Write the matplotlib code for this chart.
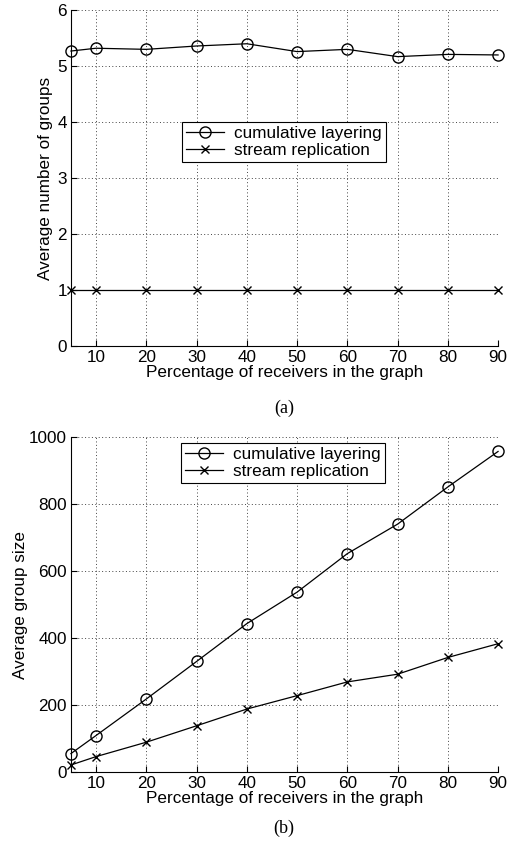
import matplotlib
matplotlib.use("Agg")
import matplotlib.pyplot as plt

plt.rcParams['font.family'] = ['Liberation Sans', 'DejaVu Sans']

# percentage of receivers
pct = [5, 10, 20, 30, 40, 50, 60, 70, 80, 90]

# (a) average number of groups
groups_cum = [5.27, 5.32, 5.30, 5.36, 5.40, 5.26, 5.30, 5.17, 5.21, 5.20]
groups_rep = [1, 1, 1, 1, 1, 1, 1, 1, 1, 1]

# (b) average group size
size_cum = [55, 109, 218, 330, 443, 537, 652, 740, 851, 957]
size_rep = [21, 46, 89, 138, 188, 228, 269, 292, 342, 383]

xticks = [10, 20, 30, 40, 50, 60, 70, 80, 90]
labels = ['cumulative layering', 'stream replication']
FS = 12.3


def style_axes(ax):
    """MATLAB-ish look: dotted grid, inward ticks, no top/right box"""
    ax.set_xlim(5, 90)
    ax.set_xticks(xticks)
    ax.grid(True, linestyle=(0, (1, 2.5)), color='#444444', linewidth=0.7)
    ax.spines['top'].set_visible(False)
    ax.spines['right'].set_visible(False)
    ax.tick_params(direction='in', length=4, labelsize=FS, pad=3)
    ax.set_xlabel('Percentage of receivers in the graph', fontsize=FS, labelpad=0)


def add_legend(ax, anchor):
    leg = ax.legend(loc='upper left', bbox_to_anchor=anchor, borderaxespad=0,
                    fontsize=FS, fancybox=False, framealpha=1, edgecolor='black',
                    handlelength=2.2, handletextpad=0.6, labelspacing=0.1,
                    borderpad=0.25)
    leg.get_frame().set_linewidth(0.8)


fig = plt.figure(figsize=(5.14, 8.48), dpi=100)

ax1 = fig.add_axes([0.138, 0.592, 0.831, 0.396])
ax1.plot(pct, groups_cum, 'k-o', mfc='none', ms=8, lw=0.9, label=labels[0], clip_on=False)
ax1.plot(pct, groups_rep, 'k-x', ms=6, lw=0.9, label=labels[1], clip_on=False)
style_axes(ax1)
ax1.set_ylim(0, 6)
ax1.set_yticks([0, 1, 2, 3, 4, 5, 6])
ax1.set_ylabel('Average number of groups', fontsize=FS)
ax1.yaxis.set_label_coords(-0.043, 0.5)
add_legend(ax1, (0.26, 0.667))
fig.text(0.553, 1 - 408 / 848, '(a)', ha='center', va='center',
         fontsize=13, family='Liberation Serif')

ax2 = fig.add_axes([0.138, 0.0896, 0.831, 0.395])
ax2.plot(pct, size_cum, 'k-o', mfc='none', ms=8, lw=0.9, label=labels[0], clip_on=False)
ax2.plot(pct, size_rep, 'k-x', ms=6, lw=0.9, label=labels[1], clip_on=False)
style_axes(ax2)
ax2.set_ylim(0, 1000)
ax2.set_yticks([0, 200, 400, 600, 800, 1000])
ax2.set_ylabel('Average group size', fontsize=FS)
ax2.yaxis.set_label_coords(-0.101, 0.5)
add_legend(ax2, (0.258, 0.982))
fig.text(0.553, 1 - 828 / 848, '(b)', ha='center', va='center',
         fontsize=13, family='Liberation Serif')

fig.savefig('out.png', dpi=100)
